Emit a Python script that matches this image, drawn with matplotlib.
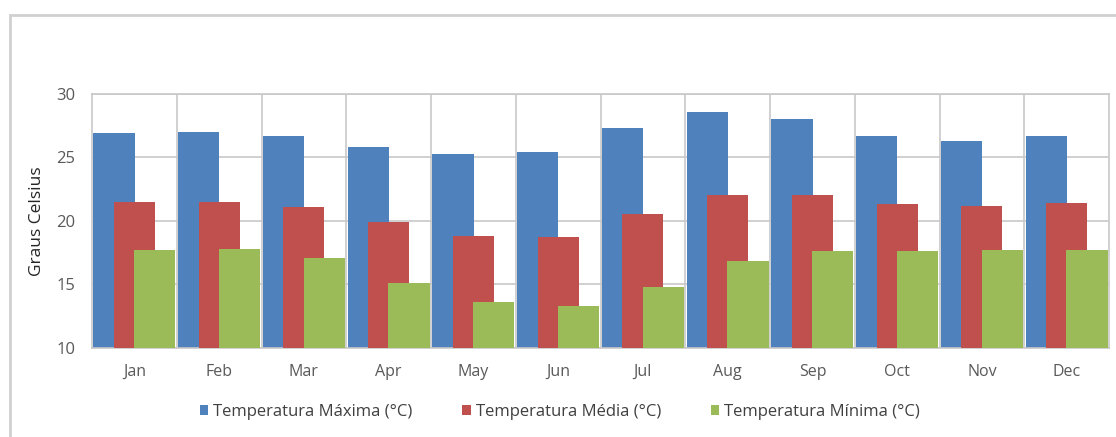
import numpy as np
import matplotlib.pyplot as plt
from matplotlib.patches import Rectangle

# monthly temperatures
months = ['Jan', 'Feb', 'Mar', 'Apr', 'May', 'Jun', 'Jul', 'Aug', 'Sep', 'Oct', 'Nov', 'Dec']
temp_max = [26.9, 27.0, 26.7, 25.85, 25.3, 25.4, 27.3, 28.6, 28.0, 26.7, 26.3, 26.7]
temp_med = [21.5, 21.5, 21.1, 19.9, 18.8, 18.7, 20.5, 22.05, 22.05, 21.3, 21.2, 21.4]
temp_min = [17.7, 17.8, 17.1, 15.1, 13.6, 13.3, 14.8, 16.8, 17.6, 17.6, 17.7, 17.7]

labels = ['Temperatura Máxima (°C)', 'Temperatura Média (°C)', 'Temperatura Mínima (°C)']
colors = ['#4f81bd', '#c0504d', '#9bbb59']

plt.rcParams['font.family'] = ['Open Sans', 'DejaVu Sans']

fig = plt.figure(figsize=(11.16, 4.37), dpi=100)

# outer chart border (left and top only visible)
fig.patches.append(Rectangle((10 / 1116, -0.1), 1.2, (437 - 15) / 437 + 0.1,
                             transform=fig.transFigure, fill=False,
                             edgecolor='#d0d0d0', linewidth=2))

ax = fig.add_axes([92 / 1116, (437 - 347.5) / 437, (1109 - 92) / 1116, (347.5 - 94) / 437])

x = np.arange(len(months))
width = 0.485
step = 0.24
for i, (vals, c, lab) in enumerate(zip([temp_max, temp_med, temp_min], colors, labels)):
    ax.bar(x + (i - 1) * step, np.array(vals) - 10, width, bottom=10, color=c, label=lab, zorder=2 + i)

ax.set_xlim(-0.5, len(months) - 0.5)
ax.set_ylim(10, 30)
ax.set_yticks([10, 15, 20, 25, 30])
ax.set_xticks(x)
ax.set_xticklabels(months)
ax.tick_params(length=0, labelsize=11.5, colors='#595959', pad=12)
ax.tick_params(axis='y', labelsize=12, pad=12)

# gridlines: horizontal at ticks, vertical at month boundaries
ax.yaxis.grid(True, color='#c8c8c8', linewidth=1.2, zorder=0)
for b in np.arange(0.5, len(months) - 0.5, 1):
    ax.axvline(b, color='#c8c8c8', linewidth=1.2, zorder=0)
ax.set_axisbelow(True)
for s in ax.spines.values():
    s.set_color('#c8c8c8')
    s.set_linewidth(1.2)

ax.set_ylabel('Graus Celsius', fontsize=12.5, color='#262626', labelpad=8)

fig.legend(loc='center', bbox_to_anchor=(560 / 1116, 1 - 412 / 437), ncol=3,
           frameon=False, fontsize=12, handlelength=0.5, handleheight=0.5,
           handletextpad=0.3, columnspacing=3.0, labelcolor='#404040')

fig.savefig('out.png', dpi=100)
